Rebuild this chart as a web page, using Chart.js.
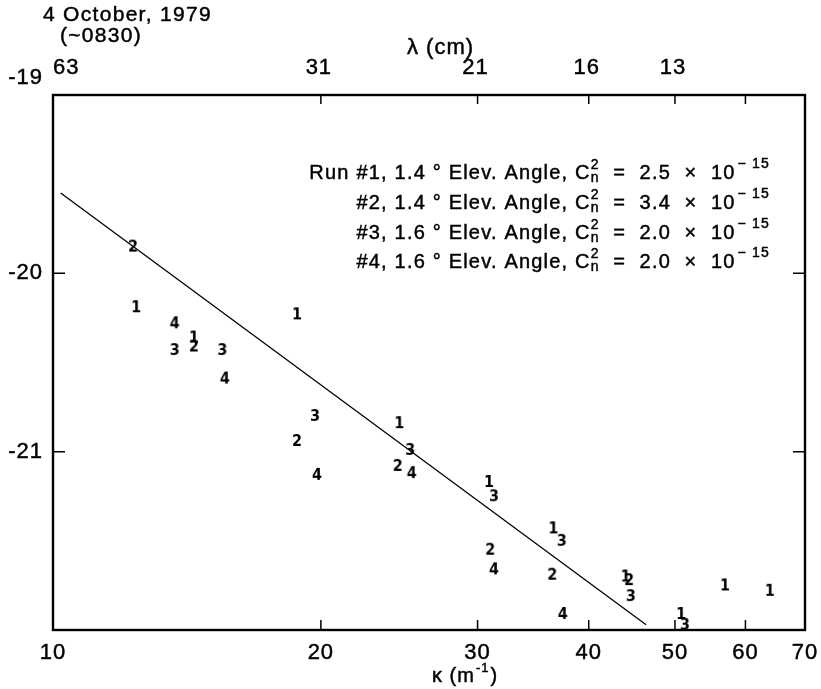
<!DOCTYPE html>
<html>
<head>
<meta charset="utf-8">
<script src="https://cdn.jsdelivr.net/npm/chart.js@4.4.0/dist/chart.umd.min.js"></script>
<style>
  html, body { margin: 0; padding: 0; background: #fff; }
  canvas { display: block; }
</style>
</head>
<body>
<canvas id="spectrumChart" width="821" height="689"></canvas>
<script>
// Values: wavenumber kappa (m^-1) and log10 of the spectrum
const run1Kappa = [12.4, 14.4, 18.8, 24.5, 30.9, 36.5, 44.0, 50.8, 56.9, 63.9];
const run1Value = [-20.19, -20.36, -20.23, -20.84, -21.17, -21.43, -21.70, -21.91, -21.75, -21.78];
const run2Kappa = [12.3, 14.4, 18.8, 24.4, 31.0, 36.4, 44.4];
const run2Value = [-19.85, -20.41, -20.94, -21.08, -21.55, -21.69, -21.72];
const run3Kappa = [13.7, 15.5, 19.7, 25.2, 31.3, 37.3, 44.6, 51.3];
const run3Value = [-20.43, -20.43, -20.80, -20.99, -21.25, -21.50, -21.81, -21.97];
const run4Kappa = [13.7, 15.6, 19.8, 25.3, 31.3, 37.4];
const run4Value = [-20.28, -20.59, -21.13, -21.12, -21.66, -21.91];

// -11/3 reference line
const lineKappa = [10.2, 46.4];
const lineValue = [-19.55, -21.97];

// axes
const kappaLabels = [10, 20, 30, 40, 50, 60, 70];
const kappaTicks = [20, 30, 40, 50, 60];
const lambdaKappa = [10, 20, 30, 40, 50];
const lambdaLabels = ["63", "31", "21", "16", "13"];
const yLabels = [-19, -20, -21];
const yTicks = [-20, -21];

// legend
const runNames = ["Run #1", "#2", "#3", "#4"];
const elevAngles = ["1.4", "1.4", "1.6", "1.6"];
const cn2Values = ["2.5", "3.4", "2.0", "2.0"];
const runDigits = ["1", "2", "3", "4"];

const FONT = "'Liberation Sans', Arial, Helvetica, sans-serif";

function digitMarker(d) {
  const c = document.createElement("canvas");
  c.width = 12;
  c.height = 16;
  const g = c.getContext("2d");
  g.fillStyle = "#000";
  g.font = "bold 16px 'Liberation Sans Narrow', 'DejaVu Sans Condensed', sans-serif";
  g.textAlign = "center";
  g.textBaseline = "middle";
  g.fillText(d, 6, 8.5);
  return c;
}

function points(xs, ys) {
  return xs.map((k, i) => ({ x: k, y: ys[i] }));
}

function runDataset(i, xs, ys) {
  return {
    type: "scatter",
    data: points(xs, ys),
    pointStyle: digitMarker(runDigits[i]),
    pointRadius: 4,
    showLine: false
  };
}

// fill plus a hairline stroke so the text looks as heavy as the printed original
function ink(ctx, s, x, y) {
  ctx.fillText(s, x, y);
  ctx.strokeText(s, x, y);
}

// right-aligned legend line with the stacked C_n^2 and the 10^-15 exponent
function drawRunLine(ctx, i, xRight, yMid) {
  const big = "20px " + FONT;
  const small = "14px " + FONT;
  const head = runNames[i] + ", " + elevAngles[i] + " ° Elev. Angle, C";
  const tail = "  =  " + cn2Values[i] + "  ×  10";
  const expo = "− 15";
  ctx.font = big;
  const wHead = ctx.measureText(head).width;
  const wTail = ctx.measureText(tail).width;
  ctx.font = small;
  const wSub = Math.max(ctx.measureText("n").width, ctx.measureText("2").width);
  const wExp = ctx.measureText(expo).width;
  let x = xRight - (wHead + wSub + wTail + wExp + 2);
  ctx.textAlign = "left";
  ctx.textBaseline = "middle";
  ctx.font = big;
  ink(ctx, head, x, yMid);
  x += wHead;
  ctx.font = small;
  ink(ctx, "n", x, yMid + 5);
  ink(ctx, "2", x, yMid - 8);
  x += wSub;
  ctx.font = big;
  ink(ctx, tail, x, yMid);
  x += wTail + 2;
  ctx.font = small;
  ink(ctx, expo, x, yMid - 9);
}

const axisDecor = {
  id: "axisDecor",
  afterDraw(chart) {
    const { ctx, chartArea: a } = chart;
    const x = chart.scales.x;
    const y = chart.scales.y;
    ctx.save();
    ctx.strokeStyle = "#000";
    ctx.fillStyle = "#000";

    // frame
    ctx.lineWidth = 2.4;
    ctx.strokeRect(a.left, a.top, a.right - a.left, a.bottom - a.top);

    // inward ticks
    ctx.lineWidth = 1.5;
    ctx.beginPath();
    kappaTicks.forEach(k => {
      const px = x.getPixelForValue(k);
      ctx.moveTo(px, a.bottom);
      ctx.lineTo(px, a.bottom - 10);
      ctx.moveTo(px, a.top);
      ctx.lineTo(px, a.top + 9);
    });
    yTicks.forEach(v => {
      const py = y.getPixelForValue(v);
      ctx.moveTo(a.left, py);
      ctx.lineTo(a.left + 12, py);
      ctx.moveTo(a.right, py);
      ctx.lineTo(a.right - 12, py);
    });
    ctx.stroke();

    ctx.lineWidth = 0.45;
    ctx.font = "22px " + FONT;
    ctx.letterSpacing = "1px";
    ctx.textBaseline = "middle";

    // bottom kappa labels
    ctx.textAlign = "center";
    kappaLabels.forEach(k => {
      ink(ctx, String(k), x.getPixelForValue(k), a.bottom + 23);
    });

    // top lambda labels
    lambdaKappa.forEach((k, i) => {
      const px = x.getPixelForValue(k);
      if (i === 0) {
        ctx.textAlign = "left";
        ink(ctx, lambdaLabels[i], px, a.top - 27);
      } else {
        ctx.textAlign = "center";
        ink(ctx, lambdaLabels[i], px - 2, a.top - 27);
      }
    });

    // y labels
    ctx.textAlign = "right";
    yLabels.forEach(v => {
      const py = y.getPixelForValue(v);
      ink(ctx, String(v), a.left - 10, v === -19 ? py - 17 : py);
    });

    // titles
    ctx.textAlign = "left";
    ink(ctx, "λ (cm)", 407, 48);
    ctx.font = "21px " + FONT;
    ctx.letterSpacing = "1.3px";
    ink(ctx, "4 October, 1979", 43, 15);
    ink(ctx, "(~0830)", 60, 36);

    // kappa axis title
    ctx.letterSpacing = "1px";
    ctx.font = "20px " + FONT;
    const t1 = "κ (m";
    const w1 = ctx.measureText(t1).width;
    const cx = 432;
    ink(ctx, t1, cx, 676);
    ctx.font = "13px " + FONT;
    ink(ctx, "-1", cx + w1 + 1, 668);
    const w2 = ctx.measureText("-1").width;
    ctx.font = "20px " + FONT;
    ink(ctx, ")", cx + w1 + w2 + 2, 676);

    // legend block
    ctx.letterSpacing = "1.2px";
    [173, 203, 233, 262].forEach((ym, i) => drawRunLine(ctx, i, 770, ym));
    ctx.restore();
  }
};

new Chart(document.getElementById("spectrumChart"), {
  data: {
    datasets: [
      {
        type: "line",
        data: points(lineKappa, lineValue),
        borderColor: "#000",
        borderWidth: 1.3,
        pointRadius: 0,
        fill: false
      },
      runDataset(0, run1Kappa, run1Value),
      runDataset(1, run2Kappa, run2Value),
      runDataset(2, run3Kappa, run3Value),
      runDataset(3, run4Kappa, run4Value)
    ]
  },
  options: {
    responsive: false,
    animation: false,
    layout: { padding: { left: 53, right: 16, top: 95, bottom: 59 } },
    plugins: { legend: { display: false }, tooltip: { enabled: false } },
    scales: {
      x: { type: "logarithmic", min: 10, max: 70, display: false },
      y: { type: "linear", min: -22, max: -19, display: false }
    }
  },
  plugins: [axisDecor]
});
</script>
</body>
</html>
